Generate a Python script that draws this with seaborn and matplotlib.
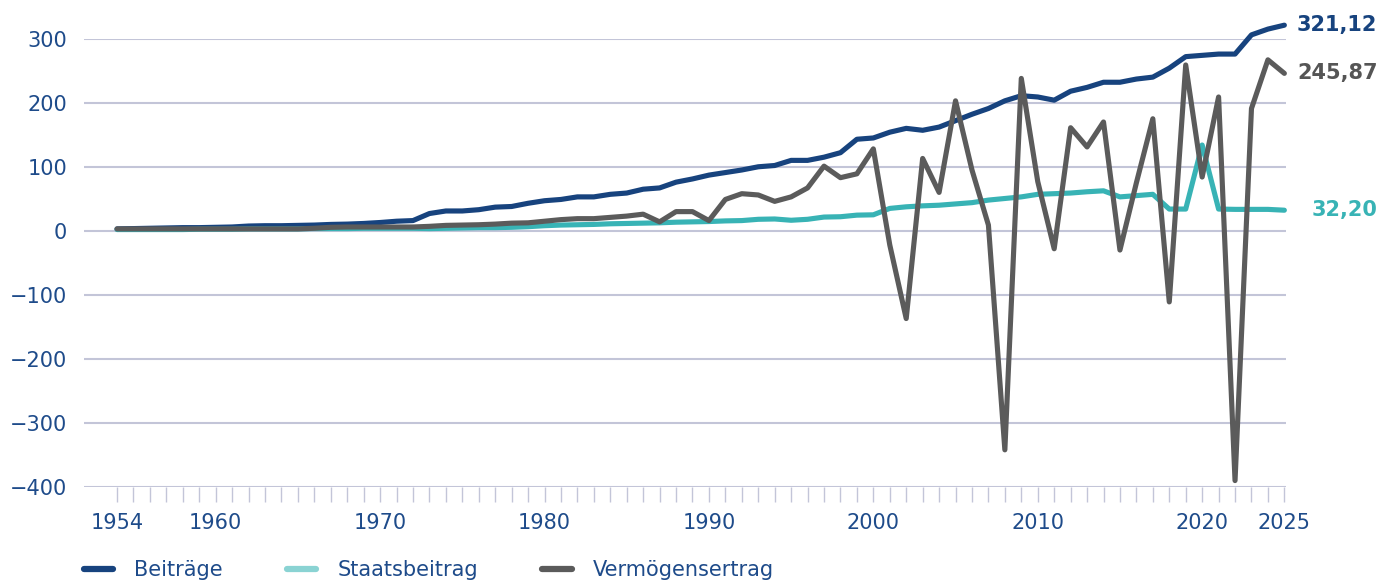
import pandas as pd
import matplotlib
matplotlib.use("Agg")
import matplotlib.pyplot as plt
from matplotlib.lines import Line2D
import seaborn as sns

# data (Mrd.)
years = list(range(1954, 2026))

beitraege = [3, 3.5, 4, 4.5, 5, 5, 5.5, 6, 7.5, 8, 8, 8.5, 9, 10, 10.5, 11.5,
             13, 15, 16, 27, 31, 31, 33, 37, 38, 43, 47, 49, 53, 53, 57, 59,
             65, 67, 76, 81, 87, 91, 95, 100, 102, 110, 110, 115, 122, 143, 145, 154,
             160, 157, 162, 172, 182, 191, 203, 211, 209, 204, 218, 224, 232, 232, 237, 240,
             254, 272, 274, 276, 276, 306, 315, 321.12]

staatsbeitrag = [2, 2, 2, 2, 2, 2.5, 2.5, 2.5, 3, 3, 3, 3, 3.5, 3.5, 3.5, 4,
                 4, 4, 4, 3.5, 4, 4.5, 5, 5, 5.5, 6.5, 8, 9, 9.5, 10, 11, 11.5,
                 12, 12.5, 13.5, 14, 14.5, 15.5, 16, 18, 18.5, 16.5, 18, 21.5, 22, 24.5, 25, 35,
                 37.5, 39, 40, 42, 44, 48, 50.5, 53, 57, 58, 59, 61, 62.5, 53, 55, 57,
                 34, 34, 134, 34, 33.5, 33.5, 33.5, 32.2]

vermoegensertrag = [3, 3, 3, 3, 3, 3, 3, 3, 3, 3, 3, 3, 4, 5.5, 6, 6,
                    6, 6, 6, 7, 8.5, 9, 9.5, 10.5, 12, 12.5, 15, 17.5, 19, 19, 21, 23,
                    26, 14, 30, 30, 16, 49, 58, 56, 46, 53, 67, 101, 83, 89, 128, -22,
                    -137, 113, 60, 203, 95, 9, -342, 238, 77, -28, 161, 131, 170, -30, 75, 175,
                    -111, 259, 84, 209, -390, 191, 267, 245.87]

series_names = ["Beiträge", "Staatsbeitrag", "Vermögensertrag"]
end_labels = ["321,12", "32,20", "245,87"]
year_labels = [1954, 1960, 1970, 1980, 1990, 2000, 2010, 2020, 2025]
y_ticks = [-400, -300, -200, -100, 0, 100, 200, 300]

line_colors = ["#17437e", "#38b3b5", "#5b5b5b"]
legend_colors = ["#17437e", "#8ad3d3", "#5b5b5b"]
label_colors = ["#17437e", "#38b3b5", "#555555"]
text_blue = "#1e4b8a"
grid_col = "#c3c5d8"

df = pd.DataFrame({"Jahr": years, "Beiträge": beitraege,
                   "Staatsbeitrag": staatsbeitrag, "Vermögensertrag": vermoegensertrag})

sns.set_theme(style="white")
plt.rcParams["font.family"] = ["DejaVu Sans"]

fig = plt.figure(figsize=(13.95, 5.82), dpi=100)
W, H = 1395, 582
ax = fig.add_axes([84 / W, 1 - 487 / H, (1286 - 84) / W, (487 - 38.7) / H])

for name, col in zip(series_names, line_colors):
    sns.lineplot(data=df, x="Jahr", y=name, ax=ax, color=col, linewidth=3.7,
                 clip_on=False, solid_capstyle="round", zorder=3)

ax.set_xlim(1951.99, 2025.1)
ax.set_ylim(-400, 300)
ax.set_xlabel("")
ax.set_ylabel("")
for s in ax.spines.values():
    s.set_visible(False)

ax.set_yticks(y_ticks)
ax.set_yticklabels([f"{v:d}".replace("-", "\u2212") for v in y_ticks])
ax.yaxis.grid(True, color=grid_col, linewidth=1.5)
ax.set_axisbelow(True)
ax.tick_params(axis="y", length=0, pad=12, labelsize=15, labelcolor=text_blue)

ax.set_xticks(years)
ax.set_xticklabels([str(y) if y in year_labels else "" for y in years])
ax.tick_params(axis="x", length=10.5, width=1, color=grid_col, pad=8,
               labelsize=15, labelcolor=text_blue, bottom=True)

# value labels at the line ends
for name, lab, col in zip(series_names, end_labels, label_colors):
    ax.annotate(lab, xy=(2025, df[name].iloc[-1]), xytext=(67, 0),
                textcoords="offset points", ha="right", va="center",
                fontsize=15, fontweight="bold", color=col, annotation_clip=False)

handles = [Line2D([0], [0], color=c, linewidth=4.5, solid_capstyle="round")
           for c in legend_colors]
fig.legend(handles, series_names, loc="center left",
           bbox_to_anchor=(84 / W, 1 - 570 / H), ncol=3, frameon=False,
           fontsize=15, handlelength=1.4, handletextpad=1.0, columnspacing=3.1,
           borderpad=0, borderaxespad=0, labelcolor=text_blue)

fig.savefig("out.png", dpi=100)
